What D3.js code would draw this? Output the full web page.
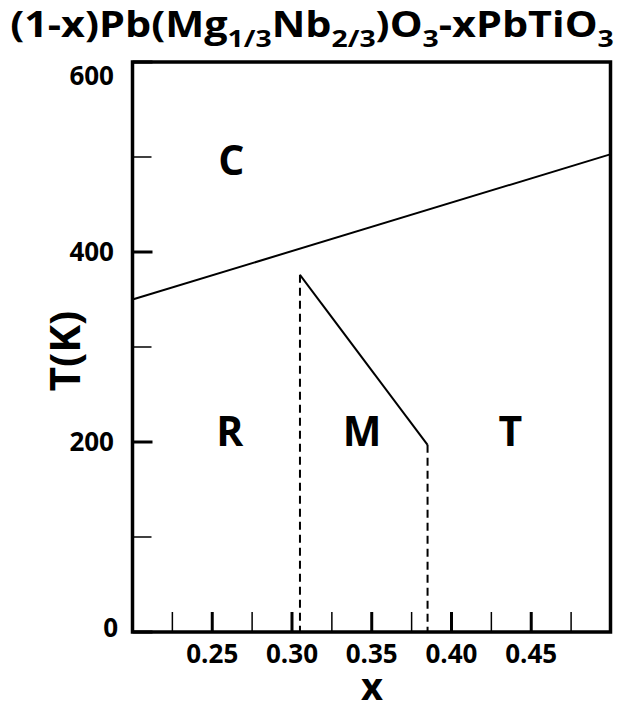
<!DOCTYPE html>
<html>
<head>
<meta charset="utf-8">
<script src="https://cdn.jsdelivr.net/npm/d3@7"></script>
<style>
  body { margin: 0; background: #fff; }
  svg text { font-family: "Open Sans", Lato, sans-serif; font-weight: bold; fill: #000; }
</style>
</head>
<body>
<svg id="chart" width="624" height="710"></svg>
<script>
// phase diagram data
var xMajorTicks = [0.25, 0.30, 0.35, 0.40, 0.45];
var xMinorTicks = [0.225, 0.275, 0.325, 0.375, 0.425, 0.475];
var yMajorTicks = [0, 200, 400, 600];
var yMinorTicks = [100, 300, 500];
var cubicLine = [[0.2, 350], [0.5, 503]];
var mpbLine = [[0.305, 376], [0.385, 197]];
var dashedX = [0.305, 0.385];
var dashedTop = [376, 197];
var phaseNames = ["C", "R", "M", "T"];
var phaseX = [0.262, 0.261, 0.344, 0.437];
var phaseT = [497, 212, 212, 212];

var svg = d3.select("#chart");
var mLeft = 132.5, mRight = 610.5, mTop = 62, mBottom = 632;

var x = d3.scaleLinear().domain([0.2, 0.4997]).range([mLeft, mRight]);
var y = d3.scaleLinear().domain([0, 600]).range([mBottom, mTop]);

// title
var title = svg.append("text").attr("x", 312).attr("y", 37)
  .attr("text-anchor", "middle").style("font-size", "35px");
var parts = [["(1-x)Pb(Mg", 0], ["1/3", 1], ["Nb", 0], ["2/3", 1], [")O", 0], ["3", 1], ["-xPbTiO", 0], ["3", 1]];
var shifted = false;
parts.forEach(function(p) {
  var ts = title.append("tspan").text(p[0]);
  if (p[1]) {
    ts.style("font-size", "24px").attr("dy", shifted ? 0 : 10);
    shifted = true;
  } else {
    ts.attr("dy", shifted ? -10 : 0);
    shifted = false;
  }
});
// stretch title to the reference width
var tb = title.node().getBBox();
var sx = 604 / tb.width;
title.attr("transform", "translate(312,0) scale(" + sx + ",1) translate(-312,0)");

// ticks
var g = svg.append("g");
g.selectAll(".xmaj").data(xMajorTicks).enter().append("line")
  .attr("x1", function(d) { return x(d); }).attr("x2", function(d) { return x(d); })
  .attr("y1", mBottom).attr("y2", mBottom - 20)
  .attr("stroke", "#000").attr("stroke-width", 3);
g.selectAll(".xmin").data(xMinorTicks).enter().append("line")
  .attr("x1", function(d) { return x(d); }).attr("x2", function(d) { return x(d); })
  .attr("y1", mBottom).attr("y2", mBottom - 20)
  .attr("stroke", "#000").attr("stroke-width", 1.5);
g.selectAll(".ymaj").data(yMajorTicks).enter().append("line")
  .attr("x1", mLeft).attr("x2", mLeft + 20)
  .attr("y1", function(d) { return y(d); }).attr("y2", function(d) { return y(d); })
  .attr("stroke", "#000").attr("stroke-width", 3);
g.selectAll(".ymin").data(yMinorTicks).enter().append("line")
  .attr("x1", mLeft).attr("x2", mLeft + 19)
  .attr("y1", function(d) { return y(d); }).attr("y2", function(d) { return y(d); })
  .attr("stroke", "#000").attr("stroke-width", 1.5);

// tick labels
g.selectAll(".xl").data(xMajorTicks).enter().append("text")
  .attr("x", function(d) { return x(d); }).attr("y", 663)
  .attr("text-anchor", "middle").style("font-size", "26px")
  .text(function(d) { return d3.format(".2f")(d); });
g.selectAll(".yl").data(yMajorTicks).enter().append("text")
  .attr("x", function(d) { return d == 0 ? 118 : 114; })
  .attr("y", function(d) { return d == 600 ? 85 : (d == 0 ? y(d) + 5 : y(d) + 9); })
  .attr("text-anchor", "end").style("font-size", "26px")
  .text(function(d) { return d; });

// axis titles
svg.append("text").attr("x", 372).attr("y", 700).attr("text-anchor", "middle")
  .style("font-size", "38px").text("x");
svg.append("text").attr("transform", "translate(80,351) rotate(-90)")
  .attr("text-anchor", "middle").style("font-size", "42px").text("T(K)");

// boundaries
var line = d3.line().x(function(d) { return x(d[0]); }).y(function(d) { return y(d[1]); });
svg.append("path").datum(cubicLine).attr("d", line)
  .attr("fill", "none").attr("stroke", "#000").attr("stroke-width", 2);
svg.append("path").datum(mpbLine).attr("d", line)
  .attr("fill", "none").attr("stroke", "#000").attr("stroke-width", 2);
svg.selectAll(".dash").data(dashedX).enter().append("line")
  .attr("x1", function(d) { return x(d); }).attr("x2", function(d) { return x(d); })
  .attr("y1", function(d, i) { return y(dashedTop[i]); }).attr("y2", mBottom)
  .attr("stroke", "#000").attr("stroke-width", 2).attr("stroke-dasharray", "8,5");

// phase labels
svg.selectAll(".phase").data(phaseNames).enter().append("text")
  .attr("x", function(d, i) { return x(phaseX[i]); })
  .attr("y", function(d, i) { return y(phaseT[i]) + 15; })
  .attr("text-anchor", "middle").style("font-size", "41px")
  .text(function(d) { return d; });

// frame
svg.append("rect").attr("x", mLeft).attr("y", mTop)
  .attr("width", mRight - mLeft).attr("height", mBottom - mTop)
  .attr("fill", "none").attr("stroke", "#000").attr("stroke-width", 3.5);
</script>
</body>
</html>
